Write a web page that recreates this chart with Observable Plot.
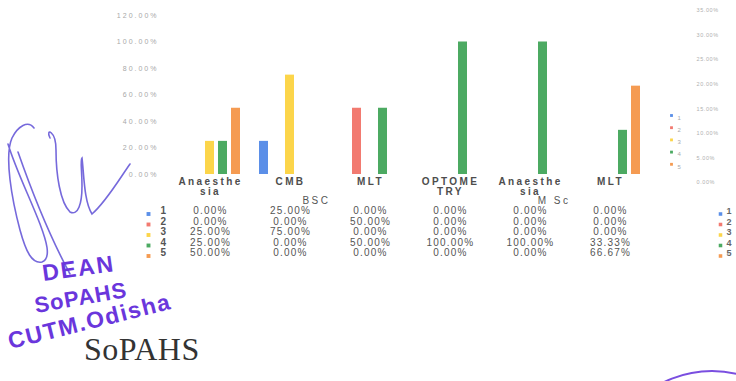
<!DOCTYPE html>
<html>
<head>
<meta charset="utf-8">
<script src="https://cdn.jsdelivr.net/npm/d3@7"></script>
<script src="https://cdn.jsdelivr.net/npm/@observablehq/plot@0.6"></script>
<style>
  html, body { margin: 0; padding: 0; background: #fff; }
  #page { position: relative; width: 736px; height: 381px; overflow: hidden; background: #fff; font-family: "Liberation Sans", Arial, sans-serif; }
  #page svg { position: absolute; }
  #main g[aria-label="y-axis tick label"] text { letter-spacing: 2px; }
  #main g[aria-description="category"] text { letter-spacing: 2.4px; }
  #main g[aria-description="program"] text { letter-spacing: 2.5px; }
  #main g[aria-description="table value"] text { letter-spacing: 1.2px; }
  #side g[aria-label="y-axis tick label"] text { letter-spacing: 0.6px; }
  .stamp { position: absolute; color: #6a36dc; font-family: "Liberation Sans", Arial, sans-serif; font-weight: bold; white-space: nowrap; transform-origin: center center; }
  #serif { position: absolute; font-family: "Liberation Serif", "Times New Roman", serif; color: #333; white-space: nowrap; }
  #arc { position: absolute; left: 602px; top: 370px; width: 220px; height: 220px; border-radius: 50%; border: 2.5px solid #7a4ee0; box-sizing: border-box; }
</style>
</head>
<body>
<div id="page"></div>
<script>
// ---- data ----
const groups = ["Anaesthesia", "CMB", "MLT", "OPTOMETRY", "Anaesthesia", "MLT"];
const programs = ["BSC", "BSC", "BSC", "BSC", "M Sc", "M Sc"];
const groupLabels = ["Anaesthe\nsia", "CMB", "MLT", "OPTOME\nTRY", "Anaesthe\nsia", "MLT"];
const seriesNames = ["1", "2", "3", "4", "5"];
const series1 = [0.00, 0.25, 0.00, 0.00, 0.00, 0.00];
const series2 = [0.00, 0.00, 0.50, 0.00, 0.00, 0.00];
const series3 = [0.25, 0.75, 0.00, 0.00, 0.00, 0.00];
const series4 = [0.25, 0.00, 0.50, 1.00, 1.00, 0.3333];
const series5 = [0.50, 0.00, 0.00, 0.00, 0.00, 0.6667];
const seriesColors = ["#5b8fe8", "#f27a70", "#fcd54a", "#4caa62", "#f59b52"];
const leftTicks = [0, 0.2, 0.4, 0.6, 0.8, 1.0, 1.2];
const rightTicks = [0, 0.05, 0.10, 0.15, 0.20, 0.25, 0.30, 0.35];
const programLabels = ["BSC", "M Sc"];

// ---- derived table ----
const allSeries = [series1, series2, series3, series4, series5];
const keys = groups.map((g, i) => programs[i] + "|" + g);
const rows = [];
allSeries.forEach((vals, j) => vals.forEach((v, i) => rows.push({key: keys[i], series: seriesNames[j], value: v})));
const pct = v => (v * 100).toFixed(2) + "%";

const marks = [];

// left axis
marks.push(Plot.axisY(leftTicks, {
  label: null, tickSize: 0, tickPadding: 12, tickFormat: pct,
  fill: "#a8a8a8", fontSize: 7
}));

// bars
marks.push(Plot.barY(rows, {fx: "key", x: "series", y: "value", fill: "series"}));

// category labels
marks.push(Plot.text(keys.map((k, i) => ({key: k, label: groupLabels[i]})), {
  ariaDescription: "category",
  fx: "key", text: "label", frameAnchor: "bottom", dy: 3.5, lineAnchor: "top",
  lineHeight: 1.0, fontSize: 10, fontWeight: "bold", fill: "#4d4d4d"
}));

// program labels (BSC under first four groups, M Sc under last two)
marks.push(Plot.text([{key: keys[1], label: programLabels[0]}, {key: keys[4], label: programLabels[1]}], {
  ariaDescription: "program",
  fx: "key", text: "label", frameAnchor: "bottom-right", dy: 29,
  fontSize: 10, fill: "#555"
}));

// data table rows
seriesNames.forEach((s, j) => {
  const rowY = 39.5 + j * 10.5;
  const rowData = rows.filter(d => d.series === s);
  marks.push(Plot.text(rowData, {
    ariaDescription: "table value",
    fx: "key", text: d => pct(d.value), frameAnchor: "bottom", dy: rowY,
    fontSize: 10, fill: "#555"
  }));
  // row key at left
  marks.push(Plot.dot([{key: keys[0], series: s}], {
    fx: "key", fill: "series", symbol: "square", r: 2.2, frameAnchor: "bottom-left",
    dx: -22, dy: rowY
  }));
  marks.push(Plot.text([{key: keys[0], series: s}], {
    fx: "key", text: "series", frameAnchor: "bottom-left", dx: -10, dy: rowY,
    fontSize: 10, fontWeight: "bold", fill: "#555"
  }));
  // row key at right
  marks.push(Plot.dot([{key: keys[5], series: s}], {
    fx: "key", fill: "series", symbol: "square", r: 2, frameAnchor: "bottom-right",
    dx: 70, dy: rowY
  }));
  marks.push(Plot.text([{key: keys[5], series: s}], {
    fx: "key", text: "series", frameAnchor: "bottom-right", dx: 76, dy: rowY,
    fontSize: 9, fontWeight: "bold", fill: "#666", textAnchor: "start"
  }));
  // small legend beside the plot
  marks.push(Plot.dot([{key: keys[5], series: s}], {
    fx: "key", fill: "series", symbol: "square", r: 1.6, frameAnchor: "top-right",
    dx: 21, dy: 100 + j * 12.2
  }));
  marks.push(Plot.text([{key: keys[5], series: s}], {
    fx: "key", text: "series", frameAnchor: "top-right", dx: 27, dy: 100 + j * 12.2,
    fontSize: 6, fill: "#aaa", textAnchor: "start"
  }));
});

const chart = Plot.plot({
  width: 736, height: 381,
  marginLeft: 170, marginRight: 86, marginTop: 15, marginBottom: 207,
  style: {background: "transparent", fontFamily: "Liberation Sans, Arial, sans-serif", overflow: "visible"},
  fx: {domain: keys, padding: 0, axis: null},
  x: {domain: seriesNames, paddingInner: 0.28, paddingOuter: 0.5, axis: null},
  y: {domain: [0, 1.2], axis: null},
  color: {domain: seriesNames, range: seriesColors},
  marks
});
chart.id = "main";
chart.style.left = "0px"; chart.style.top = "0px";

// secondary (right) axis, as in the source spreadsheet chart
const right = Plot.plot({
  width: 60, height: 381,
  marginLeft: 0, marginRight: 40, marginTop: 10, marginBottom: 199,
  style: {background: "transparent", fontFamily: "Liberation Sans, Arial, sans-serif", overflow: "visible"},
  y: {domain: [0, 0.35], axis: null},
  marks: [
    Plot.axisY(rightTicks, {anchor: "right", label: null, tickSize: 0, tickPadding: 0, tickFormat: pct,
      fill: "#b0b0b0", fontSize: 5.5, textAnchor: "start"})
  ]
});
right.id = "side";
right.style.left = "676px"; right.style.top = "0px";

const page = document.getElementById("page");
page.appendChild(chart);
page.appendChild(right);

// signature (decorative)
const sig = document.createElementNS("http://www.w3.org/2000/svg", "svg");
sig.setAttribute("width", "180"); sig.setAttribute("height", "200");
sig.style.left = "0px"; sig.style.top = "112px";
sig.innerHTML = `<g fill="none" stroke="#5f50d6" stroke-width="1.6" stroke-linecap="round" opacity="0.85">
  <path d="M34,16 C28,8 18,14 12,26 C4,44 12,88 20,118 C26,140 32,152 42,150 C52,146 46,128 40,112 C30,86 16,58 8,32"/>
  <path d="M18,40 C32,80 50,125 70,162"/>
  <path d="M50,26 C45,16 56,18 56,38 C56,62 60,90 70,100 C78,104 82,92 82,74 C82,58 80,48 82,46 C84,62 84,90 92,102 C106,90 120,66 130,52"/>
</g>`;
page.appendChild(sig);

// stamp text
function addDiv(cls, id, text, left, top, size, rot, extra) {
  const d = document.createElement("div");
  if (cls) d.className = cls;
  if (id) d.id = id;
  d.textContent = text;
  d.style.left = left + "px"; d.style.top = top + "px";
  d.style.fontSize = size + "px";
  if (rot) d.style.transform = `rotate(${rot}deg)`;
  if (extra) Object.assign(d.style, extra);
  page.appendChild(d);
}
addDiv("stamp", null, "DEAN", 42, 255, 23, -8, {letterSpacing: "2px"});
addDiv("stamp", null, "SoPAHS", 34, 285, 22, -10, {letterSpacing: "1px"});
addDiv("stamp", null, "CUTM.Odisha", 6, 308, 23, -14, {letterSpacing: "1.5px"});
addDiv(null, "serif", "SoPAHS", 84, 331, 32, 0, {letterSpacing: "0.5px"});

const arc = document.createElement("div");
arc.id = "arc";
page.appendChild(arc);
</script>
</body>
</html>
